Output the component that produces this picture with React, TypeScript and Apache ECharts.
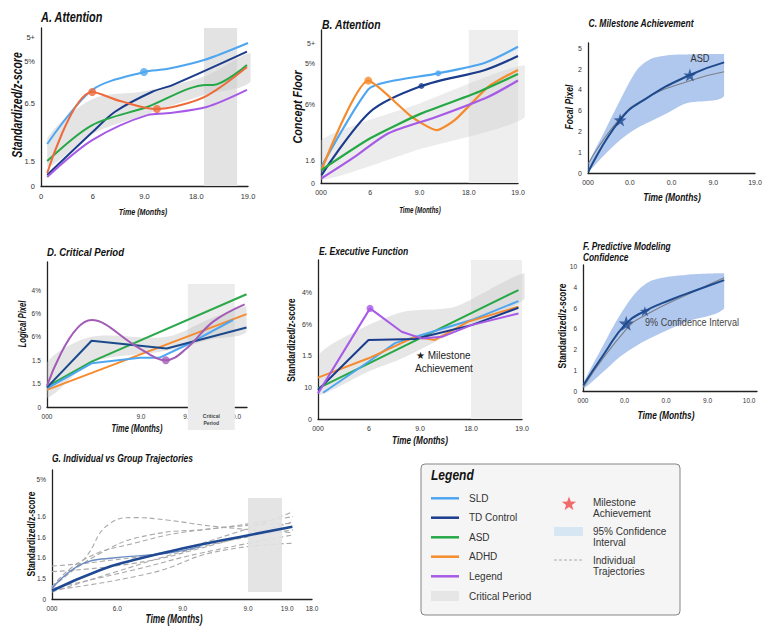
import React, { useEffect, useRef } from 'react';
import * as echarts from 'echarts';

const FONT = '"Liberation Sans", Arial, Helvetica, sans-serif';

// ---------- Panel A ----------
const aXTicks = [0, 1, 2, 3, 4];
const aXLabels = ['0', '6', '9.0', '18.0', '19.0'];
const aYTicks = [0, 15.2, 51.9, 79.1, 93.7];
const aYLabels = ['0', '1.5', '6.5', '5%', '5+'];
const aSLD = [[0.12, 26.6], [0.99, 60.8], [1.99, 72.2], [2.43, 74], [3.15, 79.7], [4.0, 90.5]];
const aTD = [[0.12, 7], [0.99, 34], [1.43, 47], [2.14, 59.5], [2.55, 64], [3.98, 85]];
const aASD = [[0.12, 15.8], [0.99, 38.6], [2.05, 50], [3.2, 64], [3.33, 64], [3.98, 76.6]];
const aADHD = [[0.12, 8.2], [0.99, 59.5], [1.53, 53.8], [2.24, 48.7], [2.63, 50.6], [3.2, 57], [3.98, 75.3]];
const aLegend = [[0.12, 5.7], [0.99, 29], [2.07, 45], [2.43, 46], [3.2, 50], [3.98, 60.8]];
const aSLDDots = [[1.99, 72.2]];
const aADHDDots = [[0.99, 59.5], [2.24, 48.7]];
const aBand = [[0.12, 12, 30], [1.0, 33, 55], [2.0, 45, 60], [3.2, 58, 70], [4.05, 66, 84]];
const aCritical = [3.15, 3.79, 0, 100];

// ---------- Panel B ----------
const bXTicks = [0, 1, 2, 3, 4];
const bXLabels = ['000', '6', '9.0', '18.0', '19.0'];
const bYTicks = [0, 15, 51.6, 77.8, 91.5];
const bYLabels = ['0', '1.6', '6%', '5%', '5+'];
const bSLD = [[0.01, 10.7], [0.96, 61.2], [1.37, 66.2], [2.38, 71.7], [3.33, 78.6], [4.0, 89]];
const bTD = [[0.01, 5.2], [1.0, 46.6], [2.04, 63.4], [3.33, 73.9], [4.0, 83]];
const bADHD = [[0.01, 8.5], [0.96, 66.9], [1.84, 43.3], [2.35, 34.6], [2.72, 41.2], [3.4, 63], [4.0, 73.9]];
const bASD = [[0.01, 8.5], [1.0, 29.2], [2.04, 45.5], [3.13, 58.6], [4.0, 71.2]];
const bLegend = [[0.01, 3], [0.69, 17.2], [1.37, 32.5], [2.35, 43.3], [3.4, 56.4], [4.0, 67]];
const bADHDDots = [[0.96, 66.9]];
const bSLDDots = [[2.38, 71.7]];
const bTDDots = [[2.04, 63.4]];
const bBand = [[0, 2, 28], [2, 22, 52], [4.14, 43, 77]];
const bCritical = [3.0, 4.0, 0, 100];

// ---------- Panel C ----------
const cXTicks = [0, 1, 2, 3, 4];
const cXLabels = ['000', '0.0', '0.0', '9.0', '19.0'];
const cYTicks = [0, 1, 2, 3, 4, 5, 6];
const cYLabels = ['0', '1', '2', '6', '4', '2', '5'];
const cBand = [[0.01, 0.1, 0.46], [0.37, 0.82, 1.9], [0.77, 1.59, 3.5], [1.17, 2.15, 4.95], [1.49, 2.47, 5.47], [1.96, 2.95, 5.67], [2.36, 3.35, 5.7], [3.26, 3.7, 5.72]];
const cTD = [[0.01, 0.06], [0.77, 2.55], [1.4, 3.59], [2.44, 4.71], [3.26, 5.32]];
const cGray = [[0.01, 0.46], [0.77, 2.63], [1.4, 3.6], [2.44, 4.44], [3.26, 4.87]];
const cStars = [[0.77, 2.55], [2.44, 4.71]];

// ---------- Panel D ----------
const dXTicks = [0, 2, 3, 4];
const dXLabels = ['000', '9.0', '9.0', '10.0'];
const dYTicks = [0, 1, 2, 3, 4, 5];
const dYLabels = ['0', '1.5', '1.5', '6%', '6%', '4%'];
const dASD = [[0, 0.87], [0.95, 1.94], [4.25, 4.82]];
const dADHD = [[0, 0.73], [4.25, 3.97]];
const dSLD = [[0, 0.8], [0.95, 1.87], [1.98, 2.11], [2.4, 2.11], [2.97, 2.65], [3.96, 3.72]];
const dTD = [[0, 0.84], [0.95, 2.83], [2.55, 2.5], [4.25, 3.4]];
const dLegend = [[0, 0.9], [0.95, 3.72], [1.98, 2.5], [2.53, 2.0], [2.97, 2.5], [3.54, 3.65], [4.21, 4.39]];
const dLegendDots = [[2.53, 2.0]];
const dBand = [[0, 0.4, 1.9], [0.95, 1.9, 3.0], [2.55, 2.4, 3.0], [3.5, 2.9, 3.8], [4.25, 3.2, 4.3]];
const dCritical = [3.0, 4.0, -0.98, 5.26];

// ---------- Panel E ----------
const eXTicks = [0, 1, 2, 3, 4];
const eXLabels = ['000', '6', '9.0', '18.0', '19.0'];
const eYTicks = [0, 1, 2, 3, 4];
const eYLabels = ['0', '10', '1.5', '6%', '4%'];
const eASD = [[0, 0.97], [3.93, 4.08]];
const eSLD = [[0.1, 0.83], [0.99, 1.81], [1.51, 2.4], [2.03, 2.66], [3.01, 3.13], [3.93, 3.73]];
const eADHD = [[0, 1.31], [0.99, 1.92], [1.9, 2.6], [2.29, 2.5], [2.95, 3.08], [3.93, 3.55]];
const eTD = [[0, 0.92], [0.99, 2.5], [1.9, 2.53], [3.01, 2.97], [3.93, 3.52]];
const eLegend = [[0, 0.81], [1.02, 3.5], [1.64, 2.76], [2.03, 2.55], [2.43, 2.6], [3.01, 2.97], [3.93, 3.34]];
const eLegendDots = [[1.02, 3.5]];
const eBand = [[0.02, 0.76, 2.03], [0.99, 1.5, 2.97], [1.7, 1.95, 3.4], [2.68, 2.75, 3.55], [4.05, 3.8, 4.61]];
const eCritical = [3.0, 4.0, 0, 5.03];

// ---------- Panel F ----------
const fXTicks = [0, 1, 2, 3, 4];
const fXLabels = ['000', '0.0', '0.0', '9.0', '10.0'];
const fYTicks = [0, 1, 2, 3, 4, 5, 6];
const fYLabels = ['0', '1', '2', '6', '6', '4', '10'];
const fBand = [[0.01, 0.12, 0.37], [0.49, 0.93, 2.22], [0.89, 1.66, 3.67], [1.29, 2.19, 4.8], [1.69, 2.62, 5.36], [2.5, 3.35, 5.62], [3.4, 4.0, 5.69]];
const fTD = [[0.01, 0.29], [0.49, 1.74], [1.04, 3.27], [1.49, 3.86], [2.1, 4.4], [2.74, 4.88], [3.4, 5.36]];
const fGray = [[0.01, 0.2], [1.04, 2.98], [1.53, 3.7], [2.66, 4.8], [3.4, 5.47]];
const fStarsBig = [[1.04, 3.27]];
const fStarsSmall = [[1.49, 3.86]];

// ---------- Panel G ----------
const gXTicks = [0, 1, 2, 3, 3.6, 3.98];
const gXLabels = ['000', '6.0', '9.0', '9.0', '19.0', '18.0'];
const gYTicks = [0, 1, 2, 3, 4, 5.78];
const gYLabels = ['0', '1.5', '1.6', '1.6', '1.6', '5%'];
const gGroup = [[0, 0.4], [0.74, 1.41], [1.25, 1.89], [2.01, 2.46], [3.03, 3.11], [3.68, 3.51]];
const gIndividual = [[0, 0.51], [0.48, 1.73], [0.89, 1.98], [1.76, 2.22], [2.27, 2.54]];
const gTraj1 = [[0, 0.59], [0.48, 1.9], [0.89, 3.67], [1.25, 3.95], [1.76, 3.83], [2.52, 3.51], [3.69, 3.22]];
const gTraj2 = [[0, 0.59], [0.74, 2.22], [1.5, 3.11], [2.52, 3.43], [3.69, 4.0]];
const gTraj3 = [[0, 1.6], [0.74, 1.82], [1.76, 2.3], [2.78, 3.19], [3.69, 4.24]];
const gTraj4 = [[0, 1.33], [1.25, 1.73], [2.27, 2.46], [3.69, 3.75]];
const gTraj5 = [[0, 0.51], [1.25, 1.41], [2.27, 2.22], [3.69, 3.11]];
const gTraj6 = [[0, 0.43], [1.5, 1.25], [2.52, 2.3], [3.69, 2.7]];
const gTraj7 = [[0, 0.59], [0.48, 1.9], [1.25, 2.7], [2.27, 3.35], [3.69, 3.67]];
const gTraj8 = [[0, 0.34], [0.99, 1.33], [2.01, 2.3], [3.03, 3.03], [3.69, 3.35]];
const gCritical = [3.0, 3.52, 0.34, 4.9];

// ---------- Legend ----------
const legendLines = ['SLD', 'TD Control', 'ASD', 'ADHD', 'Legend'];

// colours
const C_SLD = '#4ea6f0';
const C_TD = '#1b3c8c';
const C_ASD = '#25a845';
const C_ADHD = '#f58b2d';
const C_ADHD_A = '#ee6a3a';
const C_LEG = '#a65ae6';
const C_LEG_D = '#a35cb5';
const legendColors = [C_SLD, C_TD, C_ASD, C_ADHD, C_LEG];

const STAR = 'path://M0,-10 L2.35,-3.24 L9.51,-3.09 L3.8,1.24 L5.88,8.09 L0,4 L-5.88,8.09 L-3.8,1.24 L-9.51,-3.09 L-2.35,-3.24 Z';

const lab = (ticks: number[], labels: string[], v: number) => {
  const i = ticks.findIndex((t) => Math.abs(t - v) < 1e-6);
  return i >= 0 ? labels[i] : '';
};

function xAx(gi: number, max: number, ticks: number[], labels: string[], fs: number) {
  return {
    type: 'value', gridIndex: gi, min: 0, max,
    axisLine: { show: true, onZero: false, lineStyle: { color: '#222', width: 1.3 } },
    axisTick: { show: false }, splitLine: { show: false },
    axisLabel: { customValues: ticks, formatter: (v: number) => lab(ticks, labels, v), fontSize: fs, color: '#333', margin: 6, fontFamily: FONT, hideOverlap: false },
  };
}
function yAx(gi: number, max: number, ticks: number[], labels: string[], fs: number) {
  return {
    type: 'value', gridIndex: gi, min: 0, max,
    axisLine: { show: true, onZero: false, lineStyle: { color: '#222', width: 1.3 } },
    axisTick: { show: false }, splitLine: { show: false },
    axisLabel: { customValues: ticks, formatter: (v: number) => lab(ticks, labels, v), fontSize: fs, color: '#333', margin: 6, fontFamily: FONT, hideOverlap: false },
  };
}
function line(gi: number, data: number[][], color: string, width: number, smooth: any, extra: any = {}) {
  return { type: 'line', xAxisIndex: gi, yAxisIndex: gi, data, symbol: 'none', smooth, silent: true, z: 3, lineStyle: { color, width, ...(extra.lineStyle || {}) } };
}
function dots(gi: number, data: number[][], color: string, size: number, symbol = 'circle') {
  return { type: 'scatter', xAxisIndex: gi, yAxisIndex: gi, data, symbol, symbolSize: size, silent: true, z: 4, itemStyle: { color } };
}
function shade(gi: number, r: number[], color: string, z = 1, label?: any) {
  return {
    type: 'custom', coordinateSystem: 'cartesian2d', xAxisIndex: gi, yAxisIndex: gi, clip: false, silent: true, z,
    data: [[r[0], r[2]]],
    renderItem: (_p: any, api: any) => {
      const p0 = api.coord([r[0], r[3]]);
      const p1 = api.coord([r[1], r[2]]);
      const children: any[] = [{ type: 'rect', shape: { x: p0[0], y: p0[1], width: p1[0] - p0[0], height: p1[1] - p0[1] }, style: { fill: color } }];
      if (label) {
        const c = api.coord([(r[0] + r[1]) / 2, label.y]);
        children.push({ type: 'text', x: c[0], y: c[1], style: { text: label.text, fontSize: 5, fontWeight: 'bold', fill: '#444', align: 'center', verticalAlign: 'middle', fontFamily: FONT, lineHeight: 7 } });
      }
      return { type: 'group', children };
    },
  };
}
function band(gi: number, arr: number[][], color: string, smooth: number) {
  return {
    type: 'custom', coordinateSystem: 'cartesian2d', xAxisIndex: gi, yAxisIndex: gi, clip: false, silent: true, z: 2,
    data: [[arr[0][0], arr[0][1]]],
    renderItem: (_p: any, api: any) => {
      const up = arr.map((d) => api.coord([d[0], d[2]]));
      const lo = arr.slice().reverse().map((d) => api.coord([d[0], d[1]]));
      const pts = up.concat(lo);
      const xs = pts.map((p: number[]) => p[0]);
      const ys = pts.map((p: number[]) => p[1]);
      return {
        type: 'polygon',
        shape: { points: pts, smooth, smoothConstraint: [[Math.min(...xs), Math.min(...ys)], [Math.max(...xs), Math.max(...ys)]] },
        style: { fill: color },
      };
    },
  };
}
function txt(text: string, x: number, y: number, size: number, o: any = {}) {
  return {
    type: 'text', x, y, rotation: o.rot || 0, scaleX: o.sx ?? 1, silent: true, z: 100,
    style: {
      text, fontSize: size, fontWeight: o.w ?? 'bold', fontStyle: o.it === false ? 'normal' : 'italic',
      fontFamily: FONT, fill: o.fill || '#111', align: o.align || 'left', verticalAlign: 'middle',
    },
  };
}

function buildOption() {
  const R = Math.PI / 2;
  const grids = [
    { left: 41, top: 28, width: 207, height: 158 },
    { left: 321, top: 30, width: 197, height: 153 },
    { left: 588, top: 43, width: 167, height: 130 },
    { left: 47, top: 262, width: 200, height: 145 },
    { left: 318, top: 260, width: 204, height: 159 },
    { left: 583, top: 265, width: 174, height: 126 },
    { left: 52, top: 470, width: 260, height: 129 },
  ].map((g) => ({ ...g, containLabel: false, outerBoundsMode: 'none' }));

  const xAxis = [
    xAx(0, 4, aXTicks, aXLabels, 7.5),
    xAx(1, 4, bXTicks, bXLabels, 7),
    xAx(2, 4, cXTicks, cXLabels, 7),
    xAx(3, 4.26, dXTicks, dXLabels, 6.5),
    xAx(4, 4, eXTicks, eXLabels, 7),
    xAx(5, 4.19, fXTicks, fXLabels, 6.5),
    xAx(6, 3.98, gXTicks, gXLabels, 6.5),
  ];
  const yAxis = [
    yAx(0, 100, aYTicks, aYLabels, 7.5),
    yAx(1, 100, bYTicks, bYLabels, 7),
    yAx(2, 6.25, cYTicks, cYLabels, 7),
    yAx(3, 6.2, dYTicks, dYLabels, 6.5),
    yAx(4, 5.03, eYTicks, eYLabels, 7),
    yAx(5, 6.09, fYTicks, fYLabels, 6.5),
    yAx(6, 6.26, gYTicks, gYLabels, 6.5),
  ];

  const ciFill = 'rgba(120,160,225,0.58)';
  const series: any[] = [
    // A
    shade(0, aCritical, '#e3e3e3'),
    band(0, aBand, 'rgba(205,205,205,0.55)', 0.35),
    line(0, aSLD, C_SLD, 2, 0.3),
    line(0, aTD, C_TD, 2, 0.3),
    line(0, aASD, C_ASD, 2, 0.3),
    line(0, aADHD, C_ADHD_A, 2, 0.35),
    line(0, aLegend, C_LEG, 2, 0.3),
    dots(0, aSLDDots, C_SLD, 8),
    dots(0, aADHDDots, C_ADHD_A, 8),
    // B
    shade(1, bCritical, '#eeeeee'),
    band(1, bBand, 'rgba(200,200,200,0.35)', 0.2),
    line(1, bSLD, C_SLD, 2.2, 0.25),
    line(1, bTD, C_TD, 2.2, 0.3),
    line(1, bADHD, C_ADHD, 2.2, 0.2),
    line(1, bASD, C_ASD, 2.2, 0.2),
    line(1, bLegend, C_LEG, 2.2, 0.25),
    dots(1, bADHDDots, C_ADHD, 8),
    dots(1, bSLDDots, C_SLD, 6),
    dots(1, bTDDots, C_TD, 6),
    // C
    band(2, cBand, ciFill, 0.3),
    line(2, cGray, '#7a7f88', 1.1, true),
    line(2, cTD, '#1e4a8e', 2, true),
    dots(2, cStars, '#1e4a8e', 13, STAR),
    // D
    shade(3, dCritical, '#ececec', 1, { text: 'Critical\nPeriod', y: -0.55 }),
    band(3, dBand, 'rgba(190,190,190,0.4)', 0.3),
    line(3, dASD, '#2aa84a', 2, false),
    line(3, dADHD, C_ADHD, 2, false),
    line(3, dSLD, C_SLD, 2, false),
    line(3, dTD, '#1b4a8c', 2, false),
    line(3, dLegend, C_LEG_D, 2, 0.4),
    dots(3, dLegendDots, C_LEG_D, 8),
    // E
    shade(4, eCritical, '#eeeeee'),
    band(4, eBand, 'rgba(200,200,200,0.45)', 0.25),
    line(4, eASD, C_ASD, 2, false),
    line(4, eSLD, C_SLD, 2, false),
    line(4, eADHD, C_ADHD, 2, false),
    line(4, eTD, C_TD, 2, false),
    line(4, eLegend, C_LEG, 2, false),
    dots(4, eLegendDots, C_LEG, 7),
    // F
    band(5, fBand, ciFill, 0.3),
    line(5, fGray, '#7a7f88', 1.1, true),
    line(5, fTD, '#1e4a8e', 2, true),
    dots(5, fStarsBig, '#1e4a8e', 15, STAR),
    dots(5, fStarsSmall, '#1e4a8e', 10, STAR),
    // G
    ...[gTraj1, gTraj2, gTraj3, gTraj4, gTraj5, gTraj6, gTraj7, gTraj8].map((t) =>
      line(6, t, '#a9a9a9', 1.1, true, { lineStyle: { type: [5, 3] } })
    ),
    { ...shade(6, gCritical, 'rgba(226,226,226,0.92)'), z: 3 },
    line(6, gIndividual, '#6a8cc2', 1.4, true),
    line(6, gGroup, '#1f4a93', 2.6, true),
  ];
  series.forEach((s) => { if (s.type === 'line' && s.xAxisIndex === 6) s.z = s.lineStyle.width > 1.2 ? 4 : 2; });

  // star for legend
  const starPts: number[][] = [];
  for (let i = 0; i < 10; i++) {
    const r = i % 2 === 0 ? 7.5 : 3.1;
    const a = -Math.PI / 2 + (i * Math.PI) / 5;
    starPts.push([569 + r * Math.cos(a), 504 + r * Math.sin(a)]);
  }

  const legendRows = [498.3, 517.7, 537.3, 556.7, 576.3];
  const graphic: any[] = [
    // titles
    txt('A. Attention', 41, 18, 14, { sx: 0.78 }),
    txt('B. Attention', 322, 24, 13, { sx: 0.8 }),
    txt('C. Milestone Achievement', 641, 23, 10.5, { sx: 0.81, align: 'center' }),
    txt('D. Critical Period', 47, 252, 11, { sx: 0.87 }),
    txt('E. Executive Function', 319, 252, 10, { sx: 0.86 }),
    txt('F. Predictive Modeling', 583, 246, 11, { sx: 0.76 }),
    txt('Confidence', 583, 257, 11, { sx: 0.76 }),
    txt('G. Individual vs Group Trajectories', 52, 458, 10.5, { sx: 0.81 }),
    // axis names
    txt('Standardized/z-score', 17, 105, 14, { sx: 0.75, rot: R, align: 'center' }),
    txt('Time (Months)', 143, 212, 9.5, { sx: 0.75, align: 'center' }),
    txt('Concept Floor', 298, 107, 13, { sx: 0.83, rot: R, align: 'center' }),
    txt('Time (Months)', 420, 210, 8.5, { sx: 0.72, align: 'center' }),
    txt('Focal Pixel', 569, 107, 11, { sx: 0.78, rot: R, align: 'center' }),
    txt('Time (Months)', 672, 197, 11, { sx: 0.77, align: 'center' }),
    txt('Logical Pixel', 23, 324, 10, { sx: 0.77, rot: R, align: 'center' }),
    txt('Time (Months)', 137, 429, 10, { sx: 0.75, align: 'center' }),
    txt('Standardized/z-score', 292, 340, 10, { sx: 0.83, rot: R, align: 'center', it: false }),
    txt('Time (Months)', 420, 441, 10, { sx: 0.82, align: 'center' }),
    txt('Standardized/z-score', 562, 326, 11, { sx: 0.77, rot: R, align: 'center', it: false }),
    txt('Time (Months)', 666, 415, 11, { sx: 0.76, align: 'center' }),
    txt('Standardized/z-score', 31, 534, 11, { sx: 0.77, rot: R, align: 'center', it: false }),
    txt('Time (Months)', 174, 619, 12, { sx: 0.7, align: 'center' }),
    // annotations
    txt('ASD', 700, 58, 10.5, { sx: 0.88, align: 'center', w: 'normal', it: false, fill: '#333' }),
    txt('★ Milestone', 416, 355, 10, { w: 'normal', it: false, fill: '#222' }),
    txt('Achievement', 415, 368, 10, { w: 'normal', it: false, fill: '#222' }),
    txt('9% Confidence Interval', 645, 322, 10, { sx: 0.91, w: 'normal', it: false, fill: '#444' }),
    // legend box
    { type: 'rect', z: 90, silent: true, shape: { x: 421, y: 464, width: 259, height: 151, r: 4 }, style: { fill: '#f5f5f5', stroke: '#858585', lineWidth: 1 } },
    txt('Legend', 431, 475, 14, { sx: 0.86 }),
    ...legendLines.map((n, i) => ({ type: 'line', z: 100, silent: true, shape: { x1: 431, y1: legendRows[i], x2: 459, y2: legendRows[i] }, style: { stroke: legendColors[i], lineWidth: 2.5 } })),
    ...legendLines.map((n, i) => txt(n, 469, legendRows[i], 10, { w: 'normal', it: false, fill: '#333' })),
    { type: 'rect', z: 100, silent: true, shape: { x: 431, y: 591, width: 28, height: 10 }, style: { fill: '#e6e6e6' } },
    txt('Critical Period', 469, 596, 10, { w: 'normal', it: false, fill: '#333' }),
    { type: 'polygon', z: 100, silent: true, shape: { points: starPts }, style: { fill: '#f26b6b' } },
    txt('Milestone', 593, 502, 10, { w: 'normal', it: false, fill: '#333' }),
    txt('Achievement', 593, 513.5, 10, { w: 'normal', it: false, fill: '#333' }),
    { type: 'rect', z: 100, silent: true, shape: { x: 554, y: 527, width: 29, height: 9 }, style: { fill: '#d6e6f2' } },
    txt('95% Confidence', 593, 531, 10, { w: 'normal', it: false, fill: '#333' }),
    txt('Interval', 593, 542.7, 10, { w: 'normal', it: false, fill: '#333' }),
    { type: 'line', z: 100, silent: true, shape: { x1: 554, y1: 560, x2: 583, y2: 560 }, style: { stroke: '#aaaaaa', lineWidth: 1, lineDash: [3, 2] } },
    txt('Individual', 593, 560, 10, { w: 'normal', it: false, fill: '#333' }),
    txt('Trajectories', 593, 571.7, 10, { w: 'normal', it: false, fill: '#333' }),
  ];

  return { animation: false, backgroundColor: '#ffffff', textStyle: { fontFamily: FONT }, grid: grids, xAxis, yAxis, series, graphic };
}

export default function App() {
  const ref = useRef<HTMLDivElement>(null);
  useEffect(() => {
    const chart = echarts.init(ref.current as HTMLDivElement, null, { renderer: 'svg' });
    chart.setOption(buildOption() as any);
    return () => chart.dispose();
  }, []);
  return <div ref={ref} style={{ position: 'fixed', left: 0, top: 0, width: 767, height: 635, background: '#fff' }} />;
}
